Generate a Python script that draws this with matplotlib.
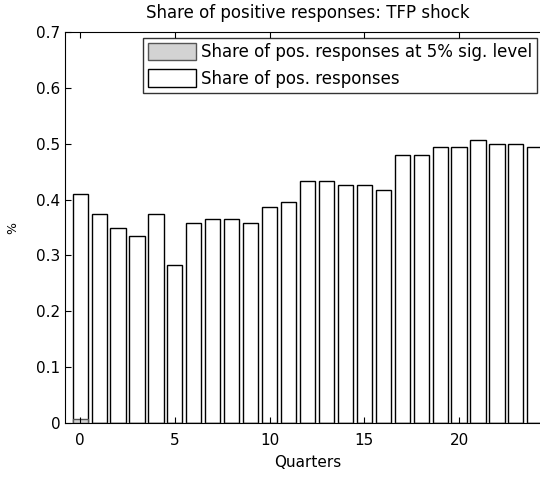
import numpy as np
import matplotlib
matplotlib.use("Agg")
import matplotlib.pyplot as plt

# Quarters after the shock
quarters = np.arange(25)

# Share of positive responses (white bars)
share_pos = [0.410, 0.374, 0.350, 0.335, 0.374, 0.282, 0.358, 0.366, 0.366,
             0.358, 0.387, 0.395, 0.433, 0.433, 0.426, 0.426, 0.418, 0.479,
             0.479, 0.494, 0.494, 0.506, 0.499, 0.499, 0.494]

# Share of positive responses significant at 5% level (grey bars)
share_sig = [0.007] + [0.0] * 24

x_ticks = [0, 5, 10, 15, 20]
y_ticks = [0, 0.1, 0.2, 0.3, 0.4, 0.5, 0.6, 0.7]
y_tick_labels = ['0', '0.1', '0.2', '0.3', '0.4', '0.5', '0.6', '0.7']

fig = plt.figure(figsize=(5.40, 4.78), dpi=100)
# axes runs past the right edge of the figure, as in the original export
ax = fig.add_axes([65 / 540, 1 - 423 / 478, 485 / 540, (423 - 32) / 478])

ax.bar(quarters, share_pos, width=0.8, color='white', edgecolor='black',
       linewidth=1.0, label='Share of pos. responses')
ax.bar(quarters, share_sig, width=0.8, color='#d3d3d3', edgecolor='#555555',
       linewidth=1.0, label='Share of pos. responses at 5% sig. level')

ax.set_xlim(-0.8, 24.8)
ax.set_ylim(0, 0.7)
ax.set_xticks(x_ticks)
ax.set_yticks(y_ticks)
ax.set_yticklabels(y_tick_labels)
ax.tick_params(direction='in', top=True, right=True, labelsize=11, length=4)
ax.tick_params(axis='x', pad=7)

ax.set_title('Share of positive responses: TFP shock', fontsize=12, pad=10)
ax.set_xlabel('Quarters', fontsize=11, labelpad=5)
ax.set_ylabel('%', fontsize=9, labelpad=12)

handles, labels = ax.get_legend_handles_labels()
leg = ax.legend(handles[::-1], labels[::-1], loc='upper right',
                bbox_to_anchor=(537 / 540, 1 - 38 / 478),
                bbox_transform=fig.transFigure, fontsize=12,
                fancybox=False, frameon=True, borderpad=0.3,
                labelspacing=0.5, handlelength=2.9, handleheight=1.2,
                handletextpad=0.3, borderaxespad=0)
leg.get_frame().set_edgecolor('black')
leg.get_frame().set_linewidth(1.0)

fig.savefig('out.png', dpi=100)
